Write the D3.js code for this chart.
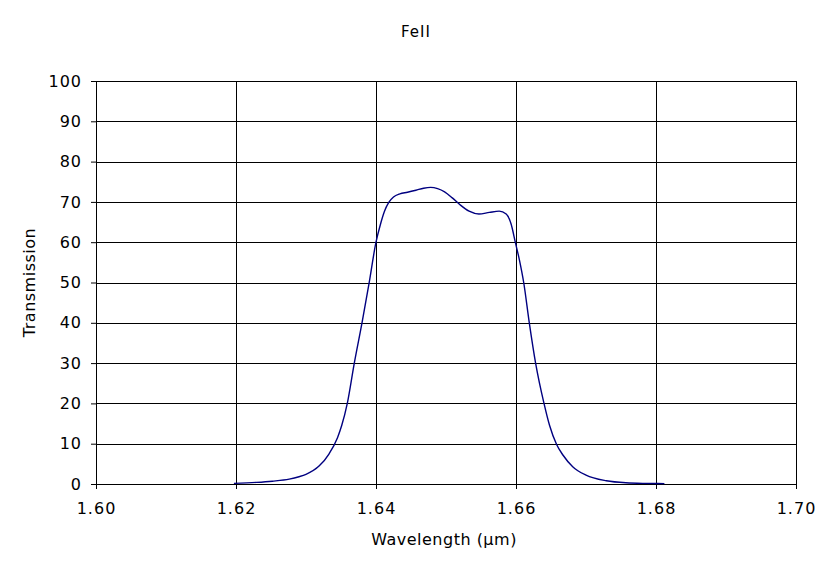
<!DOCTYPE html>
<html>
<head>
<meta charset="utf-8">
<script src="https://cdn.jsdelivr.net/npm/d3@7"></script>
<style>
  body { margin: 0; background: #fff; }
  text { font-family: "DejaVu Sans", Verdana, sans-serif; fill: #000; }
</style>
</head>
<body>
<div id="chart"></div>
<script>
var margin = {top: 81, right: 37, bottom: 86, left: 96},
  width = 833 - margin.left - margin.right,
  height = 570 - margin.top - margin.bottom;

// wavelength (um) and transmission (%)
var wavelength = [1.6197, 1.6229, 1.6252, 1.6276, 1.6290, 1.6300, 1.6319, 1.6333, 1.6345, 1.6351,
  1.6359, 1.6369, 1.6380, 1.6390, 1.6400, 1.6406,
  1.6412, 1.6418, 1.6425, 1.6434, 1.6445, 1.6457, 1.6468, 1.6478, 1.6488, 1.6498, 1.6509, 1.6520, 1.6533,
  1.6547, 1.6562, 1.6576, 1.6586, 1.6593, 1.6599, 1.6605, 1.6611, 1.6619,
  1.6628, 1.6640, 1.6648, 1.6658, 1.6667, 1.6681, 1.6700, 1.6729,
  1.6757, 1.6786, 1.6812];
var transmission = [0.15, 0.4, 0.7, 1.2, 1.8, 2.4, 4.5, 7.5, 11.5, 14.5,
  20, 30, 40, 49.7, 60, 64.2,
  67.6, 69.8, 71.2, 72.0, 72.4, 72.9, 73.4, 73.6, 73.3, 72.5, 71.0, 69.3, 67.7,
  67.0, 67.4, 67.7, 67.0, 64.5, 60, 55.5, 50, 40,
  30, 20, 14.5, 9.8, 7.2, 4.3, 2.2, 0.8,
  0.3, 0.15, 0.1];

var xTicks = [1.60, 1.62, 1.64, 1.66, 1.68, 1.70];
var yTicks = [0, 10, 20, 30, 40, 50, 60, 70, 80, 90, 100];

var data = wavelength.map(function(w, i) { return {w: w, t: transmission[i]}; });

var svg = d3.select("#chart").append("svg")
  .attr("width", width + margin.left + margin.right)
  .attr("height", height + margin.top + margin.bottom);

var g = svg.append("g")
  .attr("transform", "translate(" + margin.left + "," + margin.top + ")");

var x = d3.scaleLinear().domain([1.60, 1.70]).range([0, width]);
var y = d3.scaleLinear().domain([0, 100]).range([height, 0]);

// grid lines
g.append("g")
  .selectAll("line")
  .data(yTicks)
  .join("line")
  .attr("x1", 0).attr("x2", width)
  .attr("y1", (d) => Math.round(y(d)) + 0.5)
  .attr("y2", (d) => Math.round(y(d)) + 0.5)
  .attr("stroke", "#000");

g.append("g")
  .selectAll("line")
  .data(xTicks.slice(1))
  .join("line")
  .attr("x1", (d) => Math.round(x(d)) + 0.5)
  .attr("x2", (d) => Math.round(x(d)) + 0.5)
  .attr("y1", 0).attr("y2", height)
  .attr("stroke", "#000");

// axes
var xAxis = d3.axisBottom(x).tickValues(xTicks).tickFormat(d3.format(".2f")).tickSize(5).tickPadding(14);
var yAxis = d3.axisLeft(y).tickValues(yTicks).tickSize(5).tickPadding(9);

g.append("g")
  .attr("class", "x axis")
  .attr("transform", "translate(0," + height + ")")
  .call(xAxis)
  .call((a) => a.select(".domain").attr("d", "M0.5,0.5H" + width))
  .call((a) => a.selectAll("text").style("font-size", "16px").style("letter-spacing", "1px"));

g.append("g")
  .attr("class", "y axis")
  .call(yAxis)
  .call((a) => a.select(".domain").attr("d", "M0.5,0V" + height))
  .call((a) => a.selectAll("text").style("font-size", "16px").style("letter-spacing", "1px"));

g.selectAll(".axis line, .axis path").attr("stroke", "#000");

// curve
var line = d3.line()
  .x((d) => x(d.w))
  .y((d) => y(d.t))
  .curve(d3.curveMonotoneX);

g.append("path")
  .datum(data)
  .attr("fill", "none")
  .attr("stroke", "#000080")
  .attr("stroke-width", 1.4)
  .attr("d", line);

// titles
svg.append("text")
  .attr("x", 416)
  .attr("y", 37)
  .attr("text-anchor", "middle")
  .style("font-size", "15px")
  .style("letter-spacing", "1px")
  .text("FeII");

svg.append("text")
  .attr("x", 444)
  .attr("y", 545)
  .attr("text-anchor", "middle")
  .style("font-size", "16px")
  .style("letter-spacing", "0.5px")
  .text("Wavelength (\u03bcm)");

svg.append("text")
  .attr("transform", "translate(35," + (margin.top + height / 2) + ") rotate(-90)")
  .attr("text-anchor", "middle")
  .style("font-size", "16px")
  .style("letter-spacing", "0.5px")
  .text("Transmission");
</script>
</body>
</html>
